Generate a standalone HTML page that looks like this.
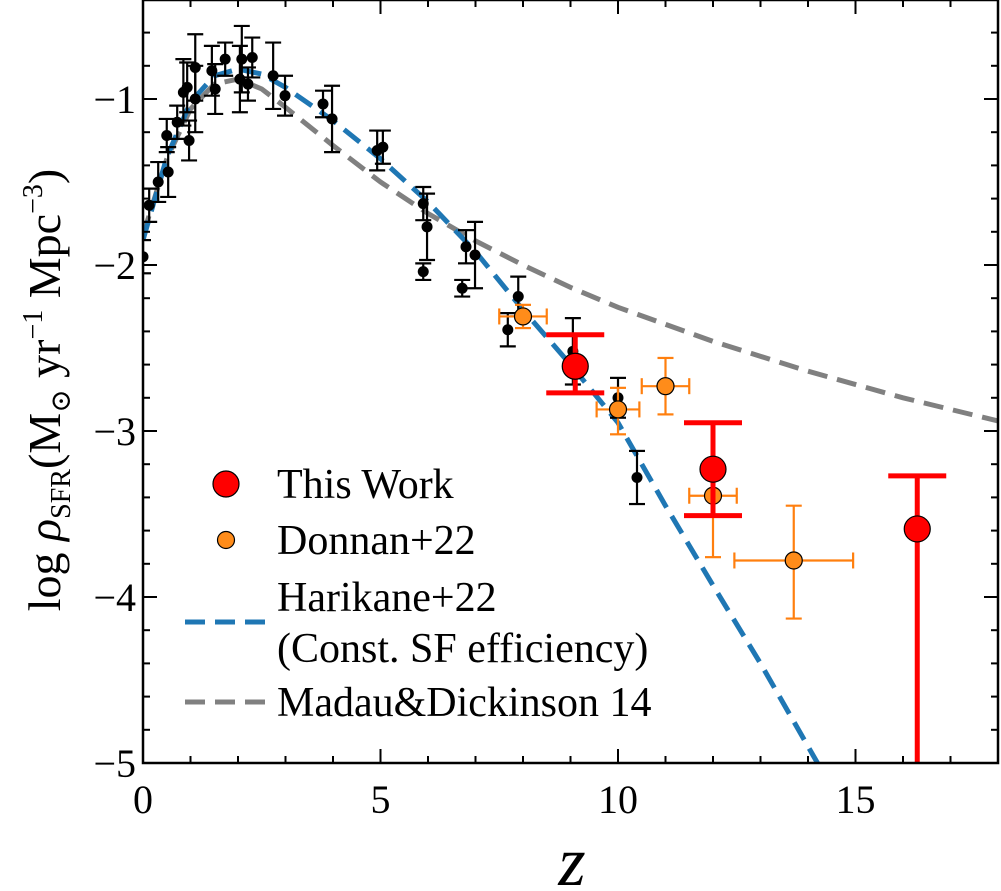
<!DOCTYPE html>
<html><head><meta charset="utf-8"><style>
html,body{margin:0;padding:0;background:#fff;}
svg{display:block;}
svg text{font-family:"Liberation Serif","DejaVu Serif",serif;}
</style></head><body>
<svg id="chart" width="1001" height="891" viewBox="0 0 1001 891" xmlns="http://www.w3.org/2000/svg">
<g id="plot"></g>
<text x="572" y="885" font-size="70" font-style="italic" text-anchor="middle">z</text>
<text transform="translate(60,390) rotate(-90)" font-size="46" text-anchor="middle">log <tspan font-style="italic">ρ</tspan><tspan font-size="28" dy="10">SFR</tspan><tspan dy="-10">(M</tspan><tspan font-size="28" dy="10">⊙</tspan><tspan dy="-10"> yr</tspan><tspan font-size="28" dy="-18">−1</tspan><tspan dy="18"> Mpc</tspan><tspan font-size="28" dy="-18">−3</tspan><tspan dy="18">)</tspan></text>
</svg>
<script>
// ---- data ----
const blackZ   = [0.0,0.13,0.32,0.53,0.5,0.72,0.97,0.85,0.93,1.1,1.1,1.45,1.52,1.73,2.04,2.08,2.21,2.3,2.74,2.99,3.79,3.98,4.93,5.05,5.9,5.98,5.9,6.8,6.99,6.72,7.68,7.9,9.05,10.0,10.4];
const blackY   = [-1.95,-1.64,-1.5,-1.44,-1.22,-1.14,-1.25,-0.96,-0.93,-0.81,-1.0,-0.83,-0.94,-0.76,-0.88,-0.76,-0.91,-0.75,-0.86,-0.98,-1.03,-1.12,-1.31,-1.29,-1.63,-1.77,-2.04,-1.89,-1.94,-2.14,-2.39,-2.19,-2.52,-2.8,-3.28];
const blackErr = [0.1,0.1,0.12,0.15,0.1,0.1,0.12,0.2,0.15,0.2,0.2,0.15,0.15,0.1,0.2,0.2,0.1,0.12,0.2,0.12,0.08,0.2,0.12,0.1,0.1,0.2,0.05,0.1,0.2,0.05,0.1,0.12,0.2,0.12,0.16];
const donZ   = [8.0,10.0,11.0,12.0,13.7];
const donY   = [-2.31,-2.87,-2.73,-3.39,-3.78];
const donXE  = [0.5,0.45,0.5,0.5,1.25];
const donYHi = [0.07,0.13,0.17,0.2,0.33];
const donYLo = [0.07,0.15,0.17,0.37,0.35];
const redZ   = [9.1,12.0,16.3];
const redY   = [-2.61,-3.23,-3.59];
const redHi  = [0.19,0.28,0.32];
const redLo  = [0.16,0.28,1.6];
const mdZ = [0,0.5,1,1.5,2,2.5,3,4,5,6,7,8,9,10,12,14,16,18];
const mdY = [-1.82,-1.36,-1.06,-0.91,-0.88,-0.94,-1.05,-1.28,-1.50,-1.69,-1.855,-2.0,-2.135,-2.255,-2.46,-2.64,-2.80,-2.94];
const hkZ = [0,0.5,1,1.5,2,2.5,3,4,5,6,7,8,9,10,11,12,13,14.2];
const hkY = [-1.85,-1.35,-1.02,-0.86,-0.82,-0.85,-0.93,-1.13,-1.36,-1.62,-1.92,-2.27,-2.6,-2.95,-3.45,-3.93,-4.4,-5.0];
const xTicks = [0,5,10,15];
const yTicks = [-1,-2,-3,-4,-5];

// ---- axes ----
const X0=143, X1=998, Y0=0, Y1=763;
const sx = z => X0 + z*(X1-X0)/18;
const sy = v => 763 - (v+5)*166;
const NS="http://www.w3.org/2000/svg";
const plot=document.getElementById('plot');
function mk(tag, attrs, parent){const e=document.createElementNS(NS,tag);for(const k in attrs)e.setAttribute(k,attrs[k]);(parent||plot).appendChild(e);return e;}

const defs=mk('defs',{});
const cp=mk('clipPath',{id:'clip'},defs);
mk('rect',{x:X0,y:Y0,width:X1-X0,height:Y1-Y0},cp);
const data=mk('g',{'clip-path':'url(#clip)'});



function pathOf(zs,ys){return zs.map((z,i)=>(i?'L':'M')+sx(z).toFixed(1)+','+sy(ys[i]).toFixed(1)).join(' ');}
const md=mk('path',{d:pathOf(mdZ,mdY),fill:'none',stroke:'#808080','stroke-width':5,'stroke-dasharray':'20,10'},data);


const hk=mk('path',{d:pathOf(hkZ,hkY),fill:'none',stroke:'#1f77b4','stroke-width':5,'stroke-dasharray':'20,10'},data);



blackZ.forEach((z,i)=>{
  const g=mk('g',{},data);
  
  
  const x=sx(z), yh=sy(blackY[i]+blackErr[i]), yl=sy(blackY[i]-blackErr[i]);
  mk('line',{x1:x,x2:x,y1:yh,y2:yl,stroke:'#000','stroke-width':2.2},g);
  mk('line',{x1:x-8,x2:x+8,y1:yh,y2:yh,stroke:'#000','stroke-width':2.2},g);
  mk('line',{x1:x-8,x2:x+8,y1:yl,y2:yl,stroke:'#000','stroke-width':2.2},g);
  mk('circle',{cx:x,cy:sy(blackY[i]),r:5.5,fill:'#000'},g);
});
donZ.forEach((z,i)=>{
  const g=mk('g',{},data);
  
  
  const x=sx(z), y=sy(donY[i]), xl=sx(z-donXE[i]), xr=sx(z+donXE[i]), yh=sy(donY[i]+donYHi[i]), yl=sy(donY[i]-donYLo[i]);
  const st={stroke:'#ff7f0e','stroke-width':2.2};
  mk('line',Object.assign({x1:xl,x2:xr,y1:y,y2:y},st),g);
  mk('line',Object.assign({x1:x,x2:x,y1:yh,y2:yl},st),g);
  mk('line',Object.assign({x1:xl,x2:xl,y1:y-8,y2:y+8},st),g);
  mk('line',Object.assign({x1:xr,x2:xr,y1:y-8,y2:y+8},st),g);
  mk('line',Object.assign({x1:x-8,x2:x+8,y1:yh,y2:yh},st),g);
  mk('line',Object.assign({x1:x-8,x2:x+8,y1:yl,y2:yl},st),g);
  mk('circle',{cx:x,cy:y,r:8.5,fill:'#ff8c1a',stroke:'#000','stroke-width':1.2},g);
});
redZ.forEach((z,i)=>{
  const g=mk('g',{},data);
  
  
  const x=sx(z), y=sy(redY[i]), yh=sy(redY[i]+redHi[i]), yl=sy(redY[i]-redLo[i]);
  mk('line',{x1:x,x2:x,y1:yh,y2:yl,stroke:'#f00','stroke-width':5},g);
  mk('line',{x1:x-29,x2:x+29,y1:yh,y2:yh,stroke:'#f00','stroke-width':5},g);
  mk('line',{x1:x-29,x2:x+29,y1:yl,y2:yl,stroke:'#f00','stroke-width':5},g);
  mk('circle',{cx:x,cy:y,r:13,fill:'#f00',stroke:'#000','stroke-width':1.2},g);
});

const fr=mk('rect',{x:X0,y:Y0,width:X1-X0,height:Y1-Y0,fill:'none',stroke:'#000','stroke-width':2.5});


for(let z=0;z<=18;z++){
  const L = z%5===0?14:7;
  mk('line',{x1:sx(z),x2:sx(z),y1:Y1,y2:Y1-L,stroke:'#000','stroke-width':2});
  mk('line',{x1:sx(z),x2:sx(z),y1:Y0,y2:Y0+L,stroke:'#000','stroke-width':2});
}
for(let k=0;k<=22;k++){
  const v=-5+k*0.2, L=(k%5===0)?14:7;
  if(sy(v)<0)continue;
  mk('line',{x1:X0,x2:X0+L,y1:sy(v),y2:sy(v),stroke:'#000','stroke-width':2});
  mk('line',{x1:X1,x2:X1-L,y1:sy(v),y2:sy(v),stroke:'#000','stroke-width':2});
}
xTicks.forEach(t=>{
  const e=mk('text',{x:sx(t),y:813,'font-size':40,'text-anchor':'middle'});
  
  
  e.textContent=t;
});
yTicks.forEach(t=>{
  const e=mk('text',{x:136,y:sy(t)+14,'font-size':40,'text-anchor':'end'});
  
  
  e.textContent='−'+Math.abs(t);
});

const lg=mk('g',{});


function ltext(x,y,s,name){const e=mk('text',{x:x,y:y,'font-size':42},lg);e.textContent=s;}
mk('circle',{cx:226,cy:484,r:13,fill:'#f00',stroke:'#000','stroke-width':1.2},lg);
ltext(277,498,'This Work','legend-this-work');
mk('circle',{cx:226,cy:540,r:8.5,fill:'#ff8c1a',stroke:'#000','stroke-width':1.2},lg);
ltext(277,554,'Donnan+22','legend-donnan');
mk('line',{x1:185,x2:265,y1:622,y2:622,stroke:'#1f77b4','stroke-width':5,'stroke-dasharray':'20,10'},lg);
ltext(277,611,'Harikane+22','legend-harikane');
ltext(277,662,'(Const. SF efficiency)','legend-harikane-note');
mk('line',{x1:185,x2:265,y1:702,y2:702,stroke:'#808080','stroke-width':5,'stroke-dasharray':'20,10'},lg);
ltext(277,716,'Madau&Dickinson 14','legend-madau');
</script>
</body></html>
